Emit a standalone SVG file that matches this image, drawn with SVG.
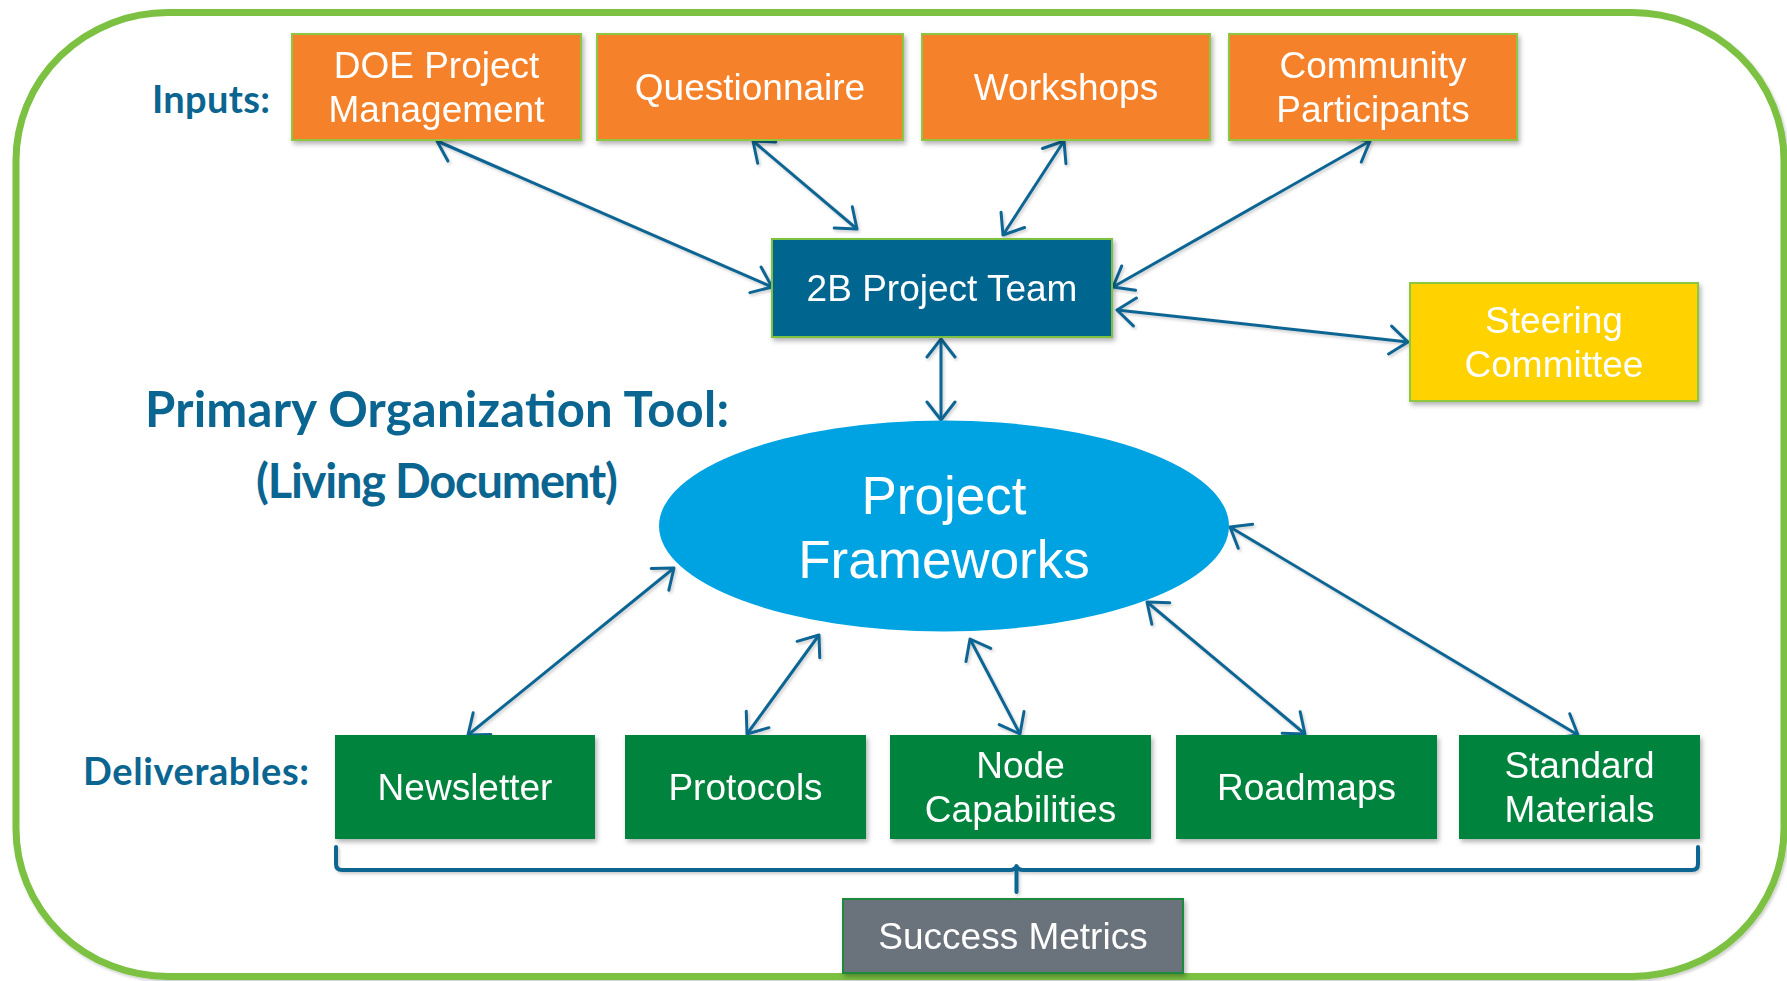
<svg xmlns="http://www.w3.org/2000/svg" width="1787" height="981" viewBox="0 0 1787 981">
  <defs>
    <filter id="shadow" x="-10%" y="-10%" width="130%" height="140%">
      <feDropShadow dx="2" dy="3" stdDeviation="2.5" flood-color="#000" flood-opacity="0.3"/>
    </filter>
    <filter id="lineShadow" x="-10%" y="-10%" width="130%" height="130%">
      <feDropShadow dx="1.5" dy="2" stdDeviation="1.5" flood-color="#000" flood-opacity="0.2"/>
    </filter>
    <marker id="arrow" viewBox="-22 -16 26 32" refX="0" refY="0" markerWidth="26" markerHeight="32" markerUnits="userSpaceOnUse" orient="auto-start-reverse">
      <path d="M -18 -14 L 0 0 L -18 14" fill="none" stroke="#0D6593" stroke-width="3" stroke-linecap="round" stroke-linejoin="round"/>
    </marker>
    <style>
      .frame { fill: #ffffff; stroke: #7BC142; stroke-width: 7; }
      .box { filter: url(#shadow); }
      .input { fill: #F58229; stroke: #8DC63F; stroke-width: 2; }
      .team { fill: #02668F; stroke: #7BC142; stroke-width: 2; }
      .steer { fill: #FFD200; stroke: #8DC63F; stroke-width: 2; }
      .deliv { fill: #02843E; }
      .metric { fill: #6B727B; stroke: #1E8A3E; stroke-width: 2; }
      .hub { fill: #00A3E1; }
      .lbl { font-family: "Liberation Sans", Arial, sans-serif; font-size: 37px; fill: #ffffff; text-anchor: middle; }
      .hublbl { font-family: "Liberation Sans", Arial, sans-serif; font-size: 53px; fill: #ffffff; text-anchor: middle; }
      .head { font-family: Lato, "Open Sans", sans-serif; font-weight: bold; fill: #0B6591; }
      .conn { fill: none; stroke: #0D6593; stroke-width: 3; marker-start: url(#arrow); marker-end: url(#arrow); }
      .brace { fill: none; stroke: #0B6591; stroke-width: 4; stroke-linecap: round; stroke-linejoin: round; }
    </style>
  </defs>

  <!-- outer rounded frame -->
  <rect class="frame" x="16" y="12.5" width="1768" height="964" rx="152" ry="148" filter="url(#lineShadow)"/>

  <!-- section captions -->
  <text class="head" x="152" y="113" font-size="38" textLength="118">Inputs:</text>
  <text class="head" x="83" y="785" font-size="38" textLength="226">Deliverables:</text>
  <text class="head" x="145" y="427" font-size="49" textLength="584">Primary Organization Tool:</text>
  <text class="head" x="256" y="498" font-size="47" textLength="362">(Living Document)</text>

  <!-- connectors -->
  <g id="connectors" filter="url(#lineShadow)">
    <line class="conn" x1="437" y1="141" x2="772" y2="287"/>
    <line class="conn" x1="753" y1="141" x2="857" y2="229"/>
    <line class="conn" x1="1064" y1="141" x2="1003" y2="235"/>
    <line class="conn" x1="1370" y1="141" x2="1113" y2="287"/>
    <line class="conn" x1="1117" y1="310" x2="1408" y2="342"/>
    <line class="conn" x1="941" y1="339" x2="941" y2="420"/>
    <line class="conn" x1="674" y1="568" x2="468" y2="735"/>
    <line class="conn" x1="819" y1="635" x2="747" y2="734"/>
    <line class="conn" x1="970" y1="639" x2="1020" y2="734"/>
    <line class="conn" x1="1147" y1="602" x2="1305" y2="734"/>
    <line class="conn" x1="1230" y1="527" x2="1578" y2="735"/>
    <path class="brace" d="M336,847 L336,864 Q336,870 342,870 L1010,870 Q1015,870 1016.5,866 Q1018,870 1023,870 L1692,870 Q1698,870 1698,864 L1698,847"/>
    <line class="brace" x1="1016.5" y1="870" x2="1016.5" y2="892" stroke-width="5"/>
  </g>

  <!-- inputs -->
  <g id="doe" class="box">
    <rect class="input" x="292" y="34" width="289" height="106"/>
    <text class="lbl" x="436.5" y="78">DOE Project</text>
    <text class="lbl" x="436.5" y="122">Management</text>
  </g>
  <g id="questionnaire" class="box">
    <rect class="input" x="597" y="34" width="306" height="106"/>
    <text class="lbl" x="750" y="100">Questionnaire</text>
  </g>
  <g id="workshops" class="box">
    <rect class="input" x="922" y="34" width="288" height="106"/>
    <text class="lbl" x="1066" y="100">Workshops</text>
  </g>
  <g id="community" class="box">
    <rect class="input" x="1229" y="34" width="288" height="106"/>
    <text class="lbl" x="1373" y="78">Community</text>
    <text class="lbl" x="1373" y="122">Participants</text>
  </g>

  <!-- project team and steering committee -->
  <g id="team" class="box">
    <rect class="team" x="772" y="239" width="340" height="98"/>
    <text class="lbl" x="942" y="301">2B Project Team</text>
  </g>
  <g id="steering" class="box">
    <rect class="steer" x="1410" y="283" width="288" height="118"/>
    <text class="lbl" x="1554" y="333">Steering</text>
    <text class="lbl" x="1554" y="377">Committee</text>
  </g>

  <!-- central hub -->
  <g id="frameworks">
    <ellipse class="hub" cx="944" cy="526" rx="285" ry="105.5"/>
    <text class="hublbl" x="944" y="514">Project</text>
    <text class="hublbl" x="944" y="578">Frameworks</text>
  </g>

  <!-- deliverables -->
  <g id="newsletter" class="box">
    <rect class="deliv" x="335" y="735" width="260" height="104"/>
    <text class="lbl" x="465" y="800">Newsletter</text>
  </g>
  <g id="protocols" class="box">
    <rect class="deliv" x="625" y="735" width="241" height="104"/>
    <text class="lbl" x="745.5" y="800">Protocols</text>
  </g>
  <g id="node-capabilities" class="box">
    <rect class="deliv" x="890" y="735" width="261" height="104"/>
    <text class="lbl" x="1020.5" y="778">Node</text>
    <text class="lbl" x="1020.5" y="822">Capabilities</text>
  </g>
  <g id="roadmaps" class="box">
    <rect class="deliv" x="1176" y="735" width="261" height="104"/>
    <text class="lbl" x="1306.5" y="800">Roadmaps</text>
  </g>
  <g id="standard-materials" class="box">
    <rect class="deliv" x="1459" y="735" width="241" height="104"/>
    <text class="lbl" x="1579.5" y="778">Standard</text>
    <text class="lbl" x="1579.5" y="822">Materials</text>
  </g>

  <!-- metrics -->
  <g id="success-metrics" class="box">
    <rect class="metric" x="843" y="899" width="340" height="74"/>
    <text class="lbl" x="1013" y="949">Success Metrics</text>
  </g>
</svg>
